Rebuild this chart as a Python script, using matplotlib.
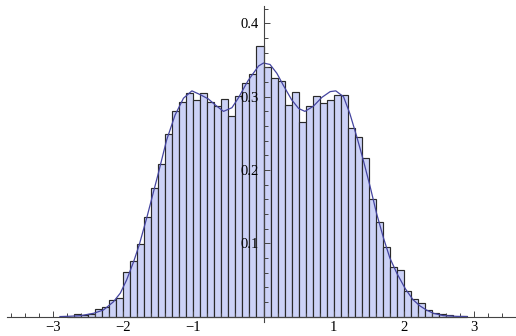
import matplotlib.pyplot as plt
import numpy as np

# histogram bins (left edges, width 0.1) and heights
bin_left = [round(-2.8 + 0.1 * i, 1) for i in range(57)]
bin_height = [0.000, 0.003, 0.0025, 0.003, 0.010, 0.013, 0.022, 0.025,
              0.061, 0.076, 0.099, 0.136, 0.175, 0.208, 0.249, 0.281,
              0.293, 0.305, 0.296, 0.305, 0.293, 0.288, 0.297, 0.274,
              0.301, 0.319, 0.331, 0.369, 0.341, 0.325, 0.321, 0.289,
              0.306, 0.265, 0.287, 0.301, 0.292, 0.295, 0.303, 0.303,
              0.258, 0.245, 0.217, 0.161, 0.129, 0.095, 0.068, 0.064,
              0.035, 0.024, 0.018, 0.009, 0.005, 0.003, 0.0015, 0.000,
              0.001]

# smooth density curve
curve_x = [-2.9, -2.75, -2.61, -2.42, -2.28, -2.14, -2.04, -1.95, -1.85,
           -1.77, -1.66, -1.50, -1.38, -1.26, -1.14, -1.02, -0.905, -0.786,
           -0.69, -0.57, -0.45, -0.36, -0.22, -0.07, 0.0, 0.093, 0.19, 0.28,
           0.40, 0.50, 0.59, 0.71, 0.83, 0.95, 1.03, 1.14, 1.23, 1.33, 1.42,
           1.52, 1.61, 1.71, 1.80, 1.90, 2.02, 2.13, 2.23, 2.32, 2.42, 2.56,
           2.75, 2.9]
curve_y = [0.0, 0.0005, 0.0012, 0.0045, 0.009, 0.020, 0.032, 0.050, 0.075,
           0.098, 0.136, 0.195, 0.241, 0.275, 0.298, 0.308, 0.303, 0.297,
           0.289, 0.280, 0.285, 0.298, 0.322, 0.342, 0.346, 0.344, 0.332,
           0.316, 0.296, 0.284, 0.280, 0.287, 0.299, 0.307, 0.308, 0.300,
           0.277, 0.245, 0.214, 0.177, 0.141, 0.107, 0.080, 0.059, 0.038,
           0.023, 0.0145, 0.009, 0.0045, 0.0013, 0.0003, 0.0]

x_major = [-3, -2, -1, 1, 2, 3]
x_labels = ["\u22123", "\u22122", "\u22121", "1", "2", "3"]
y_major = [0.1, 0.2, 0.3, 0.4]
y_labels = ["0.1", "0.2", "0.3", "0.4"]

plt.rcParams['font.family'] = ['Liberation Serif', 'DejaVu Serif']

fig = plt.figure(figsize=(5.16, 3.36), dpi=100)
ax = fig.add_axes([0, 0, 1, 1])

ax.bar(bin_left, bin_height, width=0.1, align='edge',
       facecolor='#ccd2f7', edgecolor='#2a2a2a', linewidth=0.85)
ax.plot(curve_x, curve_y, color='#4444a0', linewidth=0.9)

ax.set_xlim(-3.754, 3.597)
ax.set_ylim(-0.0265, 0.432)

for s in ['top', 'right']:
    ax.spines[s].set_visible(False)
ax.spines['bottom'].set_position(('data', 0))
ax.spines['left'].set_position(('data', 0))
ax.spines['left'].set_bounds(-0.008, 0.424)
ax.spines['bottom'].set_bounds(-3.65, 3.6)
for s in ['bottom', 'left']:
    ax.spines[s].set_color('#444444')
    ax.spines[s].set_linewidth(0.8)

ax.set_xticks(x_major)
ax.set_xticklabels(x_labels)
ax.set_xticks(np.arange(-3.6, 3.41, 0.2), minor=True)
ax.set_yticks(y_major)
ax.set_yticklabels(y_labels)
ax.set_yticks(np.arange(0.02, 0.421, 0.02), minor=True)

ax.tick_params(axis='both', which='both', direction='in', colors='#444444',
               labelcolor='black', labelsize=10.5, width=0.7)
ax.tick_params(axis='both', which='major', length=4.3)
ax.tick_params(axis='both', which='minor', length=2.8)
ax.tick_params(axis='x', pad=3.5)
ax.tick_params(axis='y', pad=3.5)

fig.savefig('out.png', dpi=100)
